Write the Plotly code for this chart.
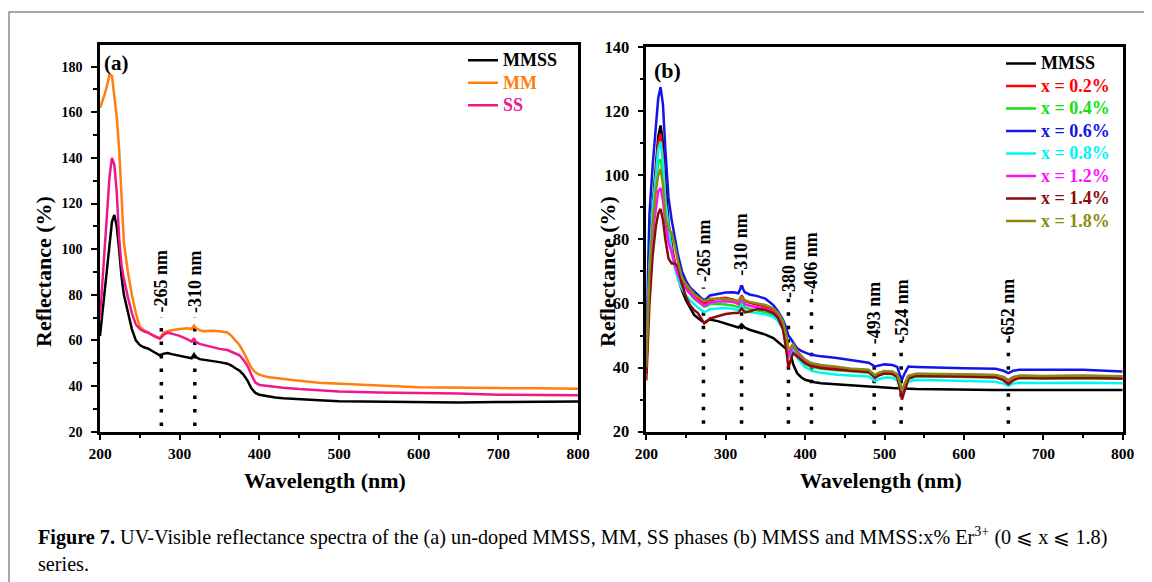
import plotly.graph_objects as go

FONT = "Liberation Serif"
# page body has an 8 px margin, so the figure is 8 px smaller and all
# placements below are given in reference-image pixels and shifted by 8
OFF = 8
W, H = 1152 - OFF, 582 - OFF

# ---------------- Panel (a) data ----------------
wl_a = [200, 203, 206, 209, 212, 215, 218, 221, 224, 227, 230, 235, 240, 245, 250, 255, 260, 265,
        270, 275, 280, 285, 290, 300, 310, 315, 318, 320, 325, 330, 340, 350, 360, 365, 370, 375,
        380, 385, 390, 395, 400, 410, 420, 430, 450, 475, 500, 550, 600, 650, 700, 750, 800]
mmss_a = [62, 72, 82, 92, 103, 112, 115, 110, 100, 88, 80, 72, 65, 60, 58, 57, 56.5, 55.5,
          54.5, 53.5, 54.2, 54.5, 54, 53.3, 52.7, 52.2, 54, 52.8, 51.8, 51.6, 51, 50.5, 49.8, 49, 47.8, 46.8,
          45, 42.5, 39, 37, 36.2, 35.5, 35, 34.7, 34.2, 33.8, 33.4, 33.1, 32.8, 32.8, 33, 33.1, 33.2]
mm_a = [162, 165, 168, 172, 176.5, 176, 168, 158, 144, 120, 103, 90, 80, 72, 66, 64.5, 63.5, 62.5,
        61.5, 61, 63.5, 64, 64.5, 65, 65.3, 65, 66.5, 65.5, 64.5, 64, 64.3, 64, 63.5, 62, 60, 58,
        55, 51.5, 48, 46, 45, 44, 43.5, 43, 42.3, 41.5, 41, 40.2, 39.5, 39.2, 39.1, 39, 38.8]
ss_a = [70, 85, 100, 115, 132, 140, 137, 125, 105, 93, 87, 79, 72, 67, 65, 64, 63.5, 62.5,
        61.5, 60.8, 62.5, 63.4, 63, 62, 60.5, 59.5, 61, 59.5, 58.5, 58, 57, 56.3, 55.8, 55, 54.3, 53.5,
        51.5, 49, 45, 41.5, 40.5, 40, 39.7, 39.3, 38.7, 38.2, 37.6, 37.2, 37, 36.7, 36.2, 36.1, 36]
names_a = ["MMSS", "MM", "SS"]
colors_a = ["#000000", "#FF7F0E", "#F0168C"]
peaks_a_x = [277, 319]
peaks_a_line_top = [70, 70]
peaks_a_lbl_mid = [86, 86]
peaks_a_lbl = ["-265 nm", "-310 nm"]

# ---------------- Panel (b) data ----------------
wl_b = [200, 204, 208, 212, 215, 218, 221, 224, 228, 232, 236, 240, 245, 250, 255, 260, 265, 270,
        273, 276, 280, 290, 300, 310, 316, 320, 324, 330, 340, 350, 360, 366, 372, 376, 379, 382,
        385, 390, 395, 400, 405, 408, 412, 420, 440, 460, 480, 485, 488, 492, 500, 510, 516, 519,
        522, 525, 530, 540, 560, 600, 640, 650, 656, 662, 670, 700, 750, 800]
mmss_b = [40, 75, 90, 103, 112, 115.5, 110, 98, 85, 78, 72, 68, 64, 61, 58.5, 56.5, 55.5, 54.5,
          54, 54.5, 55, 54.5, 53.8, 53, 52.5, 53.5, 52.5, 51.8, 51, 50.3, 49.2, 48, 46.8, 46, 45.2, 44,
          41, 38.2, 37, 36.2, 35.8, 35.6, 35.4, 35.1, 34.7, 34.3, 34.1, 34, 34, 34, 33.8, 33.6, 33.5, 33.4,
          33.3, 33.4, 33.4, 33.3, 33.2, 33.1, 33, 33, 33, 33, 33, 33.1, 33.1, 33]
x02 = [38, 70, 88, 101, 110, 113, 106, 92, 82, 77, 72.5, 69, 66.5, 65, 63.5, 62.5, 61.5, 60.5,
       60, 60.3, 61, 61.5, 61.8, 61.2, 60.5, 62.5, 60.8, 60.2, 59.5, 59, 58, 56.5, 54, 50, 44, 46,
       47.5, 45, 43.5, 42.2, 41.5, 41, 41, 40.5, 40, 39.4, 39.1, 38.2, 37.5, 38.2, 38.8, 38.6, 37.8, 35.5,
       32.5, 34.5, 37.2, 38, 38, 37.8, 37.6, 37, 36, 37, 37.4, 37.3, 37.4, 37.2]
x04 = [45, 75, 90, 99, 104, 105, 100, 90, 81, 76, 71.5, 68.5, 66, 64.5, 63, 61.5, 60.5, 59.5,
       59, 59.2, 59.8, 59.8, 59.7, 59.3, 58.8, 60.5, 58.8, 58.3, 57.8, 57.3, 56.5, 55, 52.5, 48.5, 43.5, 45,
       46.5, 44, 42.5, 41.2, 40.5, 40, 40, 39.6, 39.2, 38.7, 38.4, 37.5, 36.8, 37.4, 38.1, 37.9, 37.1, 34.8,
       31.8, 33.8, 36.6, 37.3, 37.3, 37.1, 36.9, 36.2, 35.2, 36.2, 36.7, 36.6, 36.7, 36.5]
x06 = [50, 88, 103, 116, 124, 127.5, 122, 108, 93, 86, 80, 75, 70, 67, 65, 63.8, 62.5, 61.5,
       61, 61.5, 62.5, 63, 63.4, 63.5, 63.2, 65.5, 63.5, 62.8, 62.3, 61.5, 59.5, 57.5, 55, 52.5, 50, 49,
       47.8, 46, 45.2, 44.6, 44.2, 44, 43.8, 43.5, 43, 42.2, 41.5, 40.8, 40.3, 40.6, 41, 40.8, 40.2, 38,
       36.2, 38, 40.3, 40.2, 40, 39.8, 39.6, 39, 38.3, 39, 39.3, 39.3, 39.3, 38.8]
x08 = [40, 72, 88, 101, 108, 110.5, 104, 92, 83, 76, 71, 67.5, 64.5, 62.5, 61, 59.8, 58.7, 57.8,
       57.3, 57.6, 58.2, 58.4, 58.6, 58.3, 57.8, 59.5, 57.8, 57.3, 57, 56.6, 55.8, 54.5, 52, 48, 43, 44.5,
       45.5, 43, 41.5, 40.2, 39.5, 39, 38.8, 38.4, 37.8, 37.4, 37.2, 36.4, 35.8, 36.3, 36.9, 36.8, 36, 34,
       31.5, 33.2, 35.6, 36.2, 36, 35.8, 35.6, 35, 34.3, 35, 35.3, 35.2, 35.3, 35.1]
x12 = [40, 68, 82, 90, 95, 96, 92, 85, 79, 76, 72, 69, 66, 64.5, 63, 61.8, 60.8, 59.8,
       59.3, 59.6, 60.3, 60.6, 60.7, 60.4, 59.8, 61.8, 59.8, 59.3, 58.8, 58.3, 57.3, 55.8, 53.2, 49, 43.5, 45.5,
       47, 44.5, 43, 41.6, 41, 40.6, 40.5, 40, 39.5, 39, 38.7, 37.8, 37.1, 37.7, 38.4, 38.2, 37.4, 35,
       32, 34, 36.9, 37.6, 37.5, 37.3, 37.1, 36.4, 35.5, 36.4, 36.9, 36.8, 36.9, 36.7]
x14 = [36, 60, 75, 84, 88, 89.5, 86, 80, 74, 72.5, 72.5, 71.5, 66, 62, 59.5, 58, 57, 55,
       53.8, 54.3, 55.3, 56, 56.7, 57, 57, 58.5, 57.2, 57.5, 58.3, 58, 57, 55.5, 52, 46, 40, 42.5,
       44.5, 43.5, 42.5, 41.4, 40.8, 40.4, 40.3, 39.9, 39.4, 38.9, 38.6, 37.6, 36.8, 37.5, 38.2, 38.1, 37, 34,
       30, 32.5, 36.5, 37.4, 37.4, 37.2, 37, 36, 34.8, 36, 36.8, 36.7, 36.8, 36.6]
x18 = [40, 70, 85, 95, 100, 102, 97, 87, 83, 82, 78, 73, 68, 66, 64.5, 63, 62, 61,
       60.7, 61, 61.5, 61.5, 61.4, 61, 60.8, 62, 61, 60.5, 60, 59.5, 58.5, 57, 54.5, 50.5, 45.5, 46.5,
       47.3, 45, 43.8, 42.5, 41.8, 41.4, 41.2, 40.8, 40.3, 39.6, 39.3, 38.3, 37.6, 38.3, 38.9, 38.8, 37.9, 35.5,
       32.8, 34.8, 37.4, 38.1, 38.1, 37.9, 37.7, 37, 36, 37, 37.5, 37.4, 37.5, 37.3]
names_b = ["MMSS", "x = 0.2%", "x = 0.4%", "x = 0.6%", "x = 0.8%", "x = 1.2%", "x = 1.4%", "x = 1.8%"]
colors_b = ["#000000", "#FF0000", "#11E011", "#1414E6", "#00F5F5", "#FF10FF", "#8B0A0A", "#8A8A12"]
series_b = [mmss_b, x02, x04, x06, x08, x12, x14, x18]
peaks_b_x = [272, 320, 379, 408, 487, 521, 656]
peaks_b_line_top = [65, 68, 62, 63.5, 47, 48.6, 49]
peaks_b_lbl_mid = [76.5, 78.5, 71.5, 72.5, 57, 57.8, 58]
peaks_b_lbl = ["-265 nm", "-310 nm", "-380 nm", "-406 nm", "-493 nm", "-524 nm", "-652 nm"]

# ---------------- Figure ----------------
fig = go.Figure()
for nm, col, ys in zip(names_a, colors_a, [mmss_a, mm_a, ss_a]):
    fig.add_trace(go.Scatter(x=wl_a, y=ys, mode="lines", xaxis="x", yaxis="y",
                             line=dict(color=col, width=2.5),
                             name=f'<span style="color:{col};font-size:18px">{nm}</span>',
                             legend="legend"))
for nm, col, ys in zip(names_b, colors_b, series_b):
    fig.add_trace(go.Scatter(x=wl_b, y=ys, mode="lines", xaxis="x2", yaxis="y2",
                             line=dict(color=col, width=2.5),
                             name=f'<span style="color:{col};font-size:18px">{nm}</span>',
                             legend="legend2"))

def px(v):
    return (v - OFF) / W

def py(v):
    return 1 - (v - OFF) / H

def tfont(size):
    return dict(family=FONT, size=size, color="black", weight="bold")

axis_common = dict(showline=True, linecolor="black", linewidth=2.5, mirror=True,
                   ticks="outside", ticklen=6, tickwidth=2, tickcolor="black",
                   showgrid=False, zeroline=False)
minor_x = dict(dtick=50, ticklen=4, tickwidth=2, ticks="outside", tickcolor="black")
minor_y = dict(dtick=10, ticklen=4, tickwidth=2, ticks="outside", tickcolor="black")

fig.update_layout(
    width=W, height=H, margin=dict(l=0, r=0, t=0, b=0, autoexpand=False),
    paper_bgcolor="white", plot_bgcolor="white", showlegend=True,
    xaxis=dict(domain=[px(100), px(578)], range=[200, 800], dtick=100, anchor="y",
               minor=minor_x, ticklabelstandoff=0, tickfont=tfont(15.5), **axis_common),
    yaxis=dict(domain=[py(431.7), py(45)], range=[20, 189.5], dtick=20, anchor="x",
               minor=minor_y, ticklabelstandoff=6, tickfont=tfont(14), **axis_common),
    xaxis2=dict(domain=[px(646.3), px(1122.7)], range=[200, 800], dtick=100, anchor="y2",
                minor=minor_x, ticklabelstandoff=0, tickfont=tfont(15.5), **axis_common),
    yaxis2=dict(domain=[py(431.7), py(47)], range=[20, 140], dtick=20, anchor="x2",
                minor=minor_y, ticklabelstandoff=5, tickfont=tfont(16.5), **axis_common),
    legend=dict(x=px(463), y=py(44), xanchor="left", yanchor="top", bgcolor="rgba(0,0,0,0)",
                font=dict(family=FONT, size=15, color="black", weight="bold"),
                tracegroupgap=0, itemclick=False),
    legend2=dict(x=px(1001), y=py(47.3), xanchor="left", yanchor="top", bgcolor="rgba(0,0,0,0)",
                 font=dict(family=FONT, size=15, color="black", weight="bold"),
                 tracegroupgap=0, itemclick=False),
)

shapes = []
annotations = []
# outer frame (left and top edges of the figure box)
shapes.append(dict(type="path", xref="paper", yref="paper",
                   path=f"M {px(9)},0 L {px(9)},{py(12)} L 1,{py(12)}",
                   line=dict(color="#8a8a8a", width=1.5), layer="below"))
# dotted markers + labels
for xs, tops, mids, lbls, xr, yr in [
        (peaks_a_x, peaks_a_line_top, peaks_a_lbl_mid, peaks_a_lbl, "x", "y"),
        (peaks_b_x, peaks_b_line_top, peaks_b_lbl_mid, peaks_b_lbl, "x2", "y2")]:
    for xv, yt, ym, lb in zip(xs, tops, mids, lbls):
        shapes.append(dict(type="line", xref=xr, yref=yr, x0=xv, x1=xv, y0=22.5, y1=yt,
                           line=dict(color="black", width=3.5, dash="3.5px,10px"), layer="below"))
        annotations.append(dict(x=xv, y=ym, xref=xr, yref=yr, text=lb, textangle=-90,
                                showarrow=False, xanchor="center", yanchor="middle",
                                font=dict(family=FONT, size=18, color="black", weight="bold")))

txt = dict(family=FONT, color="black", weight="bold")
annotations += [
    dict(x=px(102), y=py(63), xref="paper", yref="paper", text="(a)", showarrow=False,
         xanchor="left", yanchor="middle", font=dict(size=21, **txt)),
    dict(x=px(652), y=py(70), xref="paper", yref="paper", text="(b)", showarrow=False,
         xanchor="left", yanchor="middle", font=dict(size=22, **txt)),
    dict(x=px(43), y=py(272), xref="paper", yref="paper", text="Reflectance (%)", textangle=-90,
         showarrow=False, xanchor="center", yanchor="middle", font=dict(size=22, **txt)),
    dict(x=px(607), y=py(272), xref="paper", yref="paper", text="Reflectance (%)", textangle=-90,
         showarrow=False, xanchor="center", yanchor="middle", font=dict(size=22, **txt)),
    dict(x=px(325), y=py(480), xref="paper", yref="paper", text="Wavelength (nm)",
         showarrow=False, xanchor="center", yanchor="middle", font=dict(size=22, **txt)),
    dict(x=px(881), y=py(480), xref="paper", yref="paper", text="Wavelength (nm)",
         showarrow=False, xanchor="center", yanchor="middle", font=dict(size=22, **txt)),
    dict(x=px(36), y=py(521), xref="paper", yref="paper", align="left",
         text="<b>Figure 7.</b> UV-Visible reflectance spectra of the (a) un-doped MMSS, MM, SS phases "
              "(b) MMSS and MMSS:x% Er<sup>3+</sup> (0 ⩽ x ⩽ 1.8)<br>series.",
         showarrow=False, xanchor="left", yanchor="top",
         font=dict(family=FONT, size=20.2, color="black")),
]
fig.update_layout(shapes=shapes, annotations=annotations)

fig.write_html("out.html", config={"displayModeBar": False})
